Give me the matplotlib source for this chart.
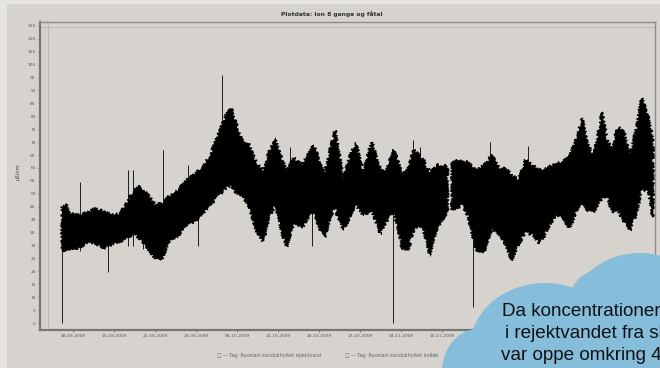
import numpy as np
import matplotlib
matplotlib.use('Agg')
import matplotlib.pyplot as plt
from matplotlib.patches import Ellipse, Rectangle

# Aflæste værdier (dage fra start, øvre og nedre kant af målebåndet)
dage = [0.0, 0.7, 1.7, 3.1, 4.4, 5.8, 7.2, 8.5, 9.9, 11.3, 12.3, 13.3, 14.7, 16.0,
        17.1, 18.4, 19.8, 21.2, 22.5, 23.9, 25.3, 26.6, 28.0, 28.9, 29.7, 30.7,
        31.8, 33.0, 34.3, 35.5, 36.5, 37.6, 38.4, 39.6, 41.0, 42.0, 43.0, 44.1,
        44.9, 45.8, 46.6, 48.0, 49.2, 50.2, 51.4, 52.9, 54.3, 55.3, 56.7, 58.1,
        59.1, 60.1, 61.5, 62.8, 64.0, 65.8, 66.2, 66.6, 68.3, 69.3, 70.7, 72.1,
        73.4, 74.8, 75.8, 76.8, 77.9, 79.1, 80.3, 81.6, 83.0, 84.3, 85.5, 86.7,
        87.8, 88.8, 89.8, 90.8, 92.2, 93.1, 93.9, 94.9, 96.0, 97.0, 98.0, 99.0,
        100.1, 100.9]
oevre = [44.9, 45.7, 42.2, 41.8, 43.0, 44.5, 43.0, 41.8, 42.2, 47.6, 51.5, 53.0,
         49.6, 45.7, 46.5, 49.2, 51.5, 55.4, 57.3, 60.0, 65.0, 72.8, 80.5, 83.2,
         77.8, 70.8, 69.7, 63.1, 58.5, 67.0, 70.8, 63.1, 59.2, 63.9, 61.2, 65.0,
         68.9, 61.2, 58.1, 67.0, 74.7, 56.1, 65.0, 69.7, 58.5, 70.1, 60.0, 58.5,
         67.0, 56.9, 60.0, 67.0, 63.9, 58.5, 61.2, 60.8, np.nan, 62.3, 63.1, 62.3,
         59.2, 61.2, 65.0, 59.2, 60.0, 57.3, 55.4, 63.1, 61.2, 59.2, 60.0, 61.9,
         62.3, 65.0, 70.8, 79.4, 68.9, 64.7, 81.7, 70.8, 67.0, 75.9, 73.6, 65.0,
         74.7, 87.1, 79.4, 70.8]
nedre = [28.3, 27.5, 28.3, 29.4, 31.0, 30.6, 29.0, 30.6, 31.4, 32.9, 35.2, 32.1,
         29.0, 24.4, 25.2, 32.1, 33.7, 37.6, 39.1, 42.2, 45.7, 49.2, 52.3, 53.0,
         50.7, 49.2, 45.7, 36.8, 31.4, 41.8, 46.1, 34.1, 29.8, 39.1, 36.8, 40.7,
         43.0, 36.0, 33.3, 40.7, 44.5, 36.0, 41.4, 45.7, 41.8, 43.7, 34.5, 39.1,
         43.7, 29.0, 28.3, 36.8, 37.9, 26.7, 36.8, 43.0, np.nan, 43.7, 45.7, 41.8,
         28.3, 27.5, 36.8, 34.1, 30.2, 24.4, 30.2, 35.2, 34.1, 30.6, 36.8, 42.2,
         40.7, 36.8, 43.7, 46.8, 43.7, 43.0, 48.4, 48.8, 43.0, 43.7, 39.1, 36.0,
         41.8, 51.5, 51.5, 41.0]

# Enkelte udslag (dag, fra, til)
spring_dage = [0.0, 3.1, 7.9, 11.3, 12.2, 13.8, 17.2, 21.5, 23.2, 27.3, 36.4,
               38.9, 42.7, 56.5, 59.9, 61.1, 62.8, 70.2, 73.1, 79.6]
spring_fra = [0.0, 28.0, 19.7, 30.0, 30.0, 28.6, 30.0, 40.0, 29.8, 50.0, 45.0,
              35.0, 29.8, 0.0, 45.0, 45.0, 25.9, 6.2, 40.0, 40.0]
spring_til = [45.0, 54.6, 40.0, 59.2, 59.2, 50.0, 67.0, 61.2, 50.0, 96.0, 72.0,
              68.1, 50.0, 60.0, 70.8, 68.1, 45.0, 40.0, 70.1, 68.5]

y_ticks = list(range(0, 120, 5))
x_labels = ['08-09-2009', '15-09-2009', '22-09-2009', '29-09-2009', '06-10-2009',
            '13-10-2009', '20-10-2009', '27-10-2009', '03-11-2009', '10-11-2009',
            '', '', '', '', '']

bg = '#d6d3cf'
fig = plt.figure(figsize=(6.6, 3.68), dpi=100, facecolor='#e6e4e1')
fig.patches.append(Rectangle((7 / 660, 0), 1, 1 - 4 / 368, transform=fig.transFigure,
                             facecolor=bg, edgecolor='none', zorder=-10))

ax = fig.add_axes([40 / 660, 1 - 330 / 368, 615 / 660, 308 / 368])
ax.set_facecolor(bg)

# båndet tegnes som to polygoner (hul i data ved NaN), med "ru" kant
x = np.array(dage)
hi = np.array(oevre)
lo = np.array(nedre)
gap = np.where(np.isnan(hi))[0]
start = 0
for stop in list(gap) + [len(x)]:
    xs = x[start:stop]
    poly = ax.fill(np.r_[xs, xs[::-1]], np.r_[hi[start:stop], lo[start:stop][::-1]],
                   facecolor='black', edgecolor='black', lw=0.8)[0]
    poly.set_sketch_params(scale=1.6, length=1.2, randomness=3)
    start = stop + 1
ax.vlines(spring_dage, spring_fra, spring_til, color='black', lw=0.6)

ax.set_xlim(-3.76, 101.25)
ax.set_ylim(-2.7, 116.5)
ax.set_yticks(y_ticks)
ax.set_yticklabels([str(v) for v in y_ticks])
ax.set_xticks(np.arange(len(x_labels)) * 7 + 1.9)
ax.set_xticklabels(x_labels)
ax.tick_params(axis='both', labelsize=3.2, colors='#555555', length=1.5, width=0.5, pad=1.5)

for side in ['left', 'bottom']:
    ax.spines[side].set_color('#767676')
    ax.spines[side].set_linewidth(1.6)
for side in ['top', 'right']:
    ax.spines[side].set_color('#8c8c8c')
    ax.spines[side].set_linewidth(1.0)
# indre ramme
ax.axvline(-2.4, color='#b6b3af', lw=0.6)
ax.axhline(114.6, color='#b6b3af', lw=0.6)

fig.text(0.503, 1 - 14 / 368, 'Plotdata: Ion 8 gange og fåtal', ha='center', va='center',
         fontsize=4.3, fontweight='bold', color='#333333')
fig.text(18 / 660, 1 - 172 / 368, 'µS/cm', rotation=90, ha='center', va='center',
         fontsize=3.8, color='#444444')
fig.text(217 / 660, 1 - 356 / 368, '□ — Tag: Rusmark konduktivitet rejektvand',
         ha='left', va='center', fontsize=3.4, color='#666666')
fig.text(345 / 660, 1 - 356 / 368, '□ — Tag: Rusmark konduktivitet indløb',
         ha='left', va='center', fontsize=3.4, color='#666666')

# Sky med tekst
cax = fig.add_axes([0, 0, 1, 1], zorder=5)
cax.set_xlim(0, 660)
cax.set_ylim(368, 0)
cax.axis('off')
cloud = '#85bddb'
for (cx, cy, w, h) in [(545, 348, 150, 130), (640, 325, 150, 144),
                       (478, 372, 72, 86), (600, 300, 60, 60)]:
    cax.add_patch(Ellipse((cx, cy), w, h, facecolor=cloud, edgecolor='none'))
cax.add_patch(Rectangle((470, 335), 200, 40, facecolor=cloud, edgecolor='none'))

for (tx, ty, line) in [(502, 311, 'Da koncentrationen'),
                       (505, 334, 'i rejektvandet fra sl'),
                       (501, 356, 'var oppe omkring 4')]:
    fig.text(tx / 660, 1 - ty / 368, line, ha='left', va='center', fontsize=13.6,
             family='Liberation Sans', color='#111111', zorder=6)

fig.savefig('out.png', dpi=100, facecolor=fig.get_facecolor())
